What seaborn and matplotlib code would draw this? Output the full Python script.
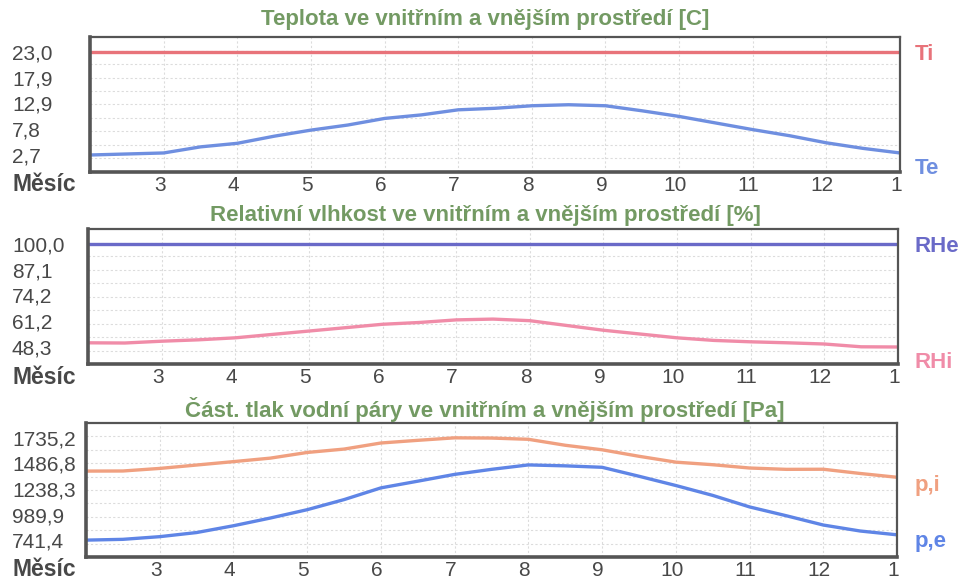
import numpy as np
import pandas as pd
import matplotlib
matplotlib.use("Agg")
import matplotlib.pyplot as plt
import matplotlib.transforms as mtransforms
from matplotlib.ticker import FixedLocator
import seaborn as sns

# data (months 2 .. 13, 13 = January of next year)
months = [2.0, 2.5, 3.0, 3.5, 4.0, 4.5, 5.0, 5.5, 6.0, 6.5, 7.0, 7.5,
          8.0, 8.5, 9.0, 9.5, 10.0, 10.5, 11.0, 11.5, 12.0, 12.5, 13.0]
month_ticks = [3, 4, 5, 6, 7, 8, 9, 10, 11, 12, 13]
month_labels = ["3", "4", "5", "6", "7", "8", "9", "10", "11", "12", "1"]

Ti = [23.0] * 23
Te = [2.7, 2.9, 3.1, 4.3, 5.0, 6.4, 7.6, 8.6, 9.9, 10.6, 11.6, 11.9,
      12.4, 12.6, 12.4, 11.4, 10.3, 9.0, 7.7, 6.5, 5.1, 4.0, 3.1]

RHe = [100.0] * 23
RHi = [50.4, 50.3, 51.2, 51.9, 52.9, 54.6, 56.3, 58.0, 59.7, 60.6, 61.9, 62.3,
       61.5, 59.1, 56.7, 54.8, 52.9, 51.6, 50.9, 50.4, 49.8, 48.4, 48.3]

p_i = [1412, 1413, 1438, 1471, 1504, 1538, 1593, 1626, 1685, 1711, 1735.2, 1733,
       1721, 1663, 1619, 1556, 1499, 1474, 1442, 1429, 1430, 1389, 1352]
p_e = [741.4, 749, 775, 815, 881, 956, 1037, 1135, 1249, 1314, 1380, 1429,
       1472, 1463, 1449, 1362, 1272, 1176, 1064, 978, 888, 830, 793]

titles = ["Teplota ve vnitřním a vnějším prostředí [C]",
          "Relativní vlhkost ve vnitřním a vnějším prostředí [%]",
          "Část. tlak vodní páry ve vnitřním a vnějším prostředí [Pa]"]

sns.set_style("white")
plt.rcParams["font.family"] = ["Liberation Sans", "DejaVu Sans"]

TITLE_C = "#739a63"
TEXT_C = "#484848"
FRAME_C = "#555555"

panels = [
    dict(rect=[90 / 960, 1 - 172 / 581, 810 / 960, 135 / 581], title_y=20,
         series=[("Ti", Ti, "#e8737a", 55), ("Te", Te, "#6f8fe0", 168)]),
    dict(rect=[88 / 960, 1 - 364 / 581, 810 / 960, 135 / 581], title_y=215,
         series=[("RHe", RHe, "#6a6ac8", 246), ("RHi", RHi, "#f08ca8", 362)]),
    dict(rect=[86 / 960, 1 - 557 / 581, 811 / 960, 134 / 581], title_y=410,
         series=[("p,i", p_i, "#f0a080", 486), ("p,e", p_e, "#5f85e6", 541)]),
]

fig = plt.figure(figsize=(9.6, 5.81), dpi=100)
fig.patch.set_facecolor("white")

for k, pan in enumerate(panels):
    ax = fig.add_axes(pan["rect"])
    rows = []
    for name, vals, col, _ in pan["series"]:
        rows.append(pd.DataFrame({"month": months, "value": vals, "serie": name}))
    df = pd.concat(rows, ignore_index=True)
    pal = {name: col for name, _, col, _ in pan["series"]}
    sns.lineplot(data=df, x="month", y="value", hue="serie", palette=pal,
                 linewidth=2.4, legend=False, ax=ax)

    allv = np.concatenate([np.asarray(s[1], float) for s in pan["series"]])
    lo, hi = allv.min(), allv.max()
    rng = hi - lo
    ylo, yhi = lo - 0.165 * rng, hi + 0.145 * rng
    ax.set_ylim(ylo, yhi)
    ax.set_xlim(2, 13)

    yt = np.linspace(lo, hi, 5)
    ax.set_yticks(yt)
    ax.set_yticklabels([f"{v:.1f}".replace(".", ",") for v in yt])
    ax.yaxis.set_minor_locator(FixedLocator(np.linspace(ylo, yhi, 11)[1:-1]))
    ax.set_xticks(month_ticks)
    ax.set_xticklabels(month_labels)

    ax.grid(True, which="minor", axis="y", color="#dcdcdc", linestyle=(0, (2, 2)), linewidth=0.8)
    ax.grid(True, which="major", axis="x", color="#dcdcdc", linestyle=(0, (2, 2)), linewidth=0.8)
    ax.set_axisbelow(True)

    left_px = pan["rect"][0] * 960
    ax.tick_params(axis="y", which="both", length=0, pad=(left_px - 12) * 0.72,
                   labelsize=15, labelcolor=TEXT_C)
    for lab in ax.get_yticklabels():
        lab.set_ha("left")
    ax.tick_params(axis="x", length=0, pad=3, labelsize=15, labelcolor=TEXT_C)
    shift = mtransforms.ScaledTranslation(-4 / 100, 0, fig.dpi_scale_trans)
    for lab in ax.get_xticklabels():
        lab.set_transform(lab.get_transform() + shift)

    ax.set_xlabel("")
    ax.set_ylabel("")
    for side, sp in ax.spines.items():
        sp.set_color(FRAME_C)
        sp.set_linewidth(2.6 if side in ("left", "bottom") else 1.6)

    fig.text(485 / 960, 1 - pan["title_y"] / 581, titles[k], ha="center", va="center",
             fontsize=16, fontweight="bold", color=TITLE_C)
    bottom_px = 581 - pan["rect"][1] * 581
    fig.text(13 / 960, 1 - (bottom_px + 13) / 581, "Měsíc", ha="left", va="center",
             fontsize=16.5, fontweight="bold", color=TEXT_C)
    for name, _, col, ypx in pan["series"]:
        fig.text(915 / 960, 1 - ypx / 581, name, ha="left", va="center",
                 fontsize=16, fontweight="bold", color=col)

fig.savefig("out.png", dpi=100, facecolor="white")
